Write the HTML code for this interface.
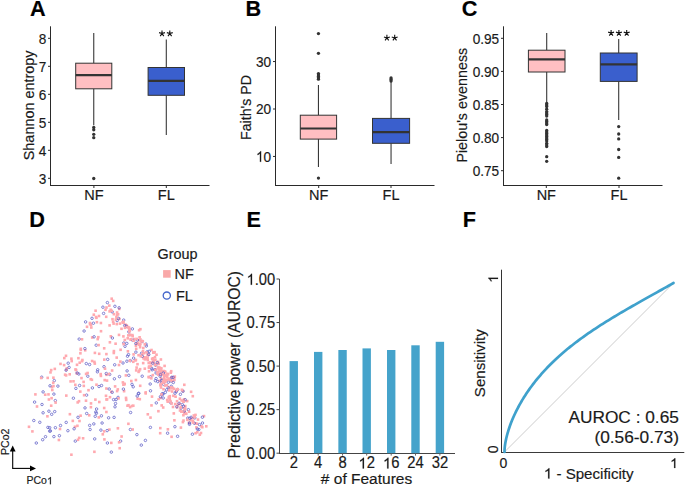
<!DOCTYPE html>
<html><head><meta charset="utf-8"><style>
html,body{margin:0;padding:0;background:#fff;}
svg{display:block;font-family:"Liberation Sans", sans-serif;}
text{stroke:#1a1a1a;stroke-width:0.18px;font-kerning:none;}
</style></head><body>
<svg width="685" height="486" viewBox="0 0 685 486">
<rect width="685" height="486" fill="#fff"/>
<g transform="translate(29.90 15.70)"><text x="0.00" y="0" font-size="21.7" font-weight="bold" fill="#000">A</text></g>
<line x1="50.50" y1="26.30" x2="50.50" y2="186.00" stroke="#2a2a2a" stroke-width="1"/>
<line x1="50.00" y1="185.50" x2="209.50" y2="185.50" stroke="#2a2a2a" stroke-width="1"/>
<line x1="48.00" y1="38.30" x2="50.50" y2="38.30" stroke="#2a2a2a" stroke-width="1"/>
<g transform="translate(46.20 43.70) scale(0.885 1)"><text x="-8.56" y="0" font-size="15.4" font-weight="normal" fill="#1a1a1a">8</text></g>
<line x1="48.00" y1="66.30" x2="50.50" y2="66.30" stroke="#2a2a2a" stroke-width="1"/>
<g transform="translate(46.20 71.70) scale(0.885 1)"><text x="-8.56" y="0" font-size="15.4" font-weight="normal" fill="#1a1a1a">7</text></g>
<line x1="48.00" y1="94.30" x2="50.50" y2="94.30" stroke="#2a2a2a" stroke-width="1"/>
<g transform="translate(46.20 99.70) scale(0.885 1)"><text x="-8.56" y="0" font-size="15.4" font-weight="normal" fill="#1a1a1a">6</text></g>
<line x1="48.00" y1="122.30" x2="50.50" y2="122.30" stroke="#2a2a2a" stroke-width="1"/>
<g transform="translate(46.20 127.70) scale(0.885 1)"><text x="-8.56" y="0" font-size="15.4" font-weight="normal" fill="#1a1a1a">5</text></g>
<line x1="48.00" y1="150.30" x2="50.50" y2="150.30" stroke="#2a2a2a" stroke-width="1"/>
<g transform="translate(46.20 155.70) scale(0.885 1)"><text x="-8.56" y="0" font-size="15.4" font-weight="normal" fill="#1a1a1a">4</text></g>
<line x1="48.00" y1="178.30" x2="50.50" y2="178.30" stroke="#2a2a2a" stroke-width="1"/>
<g transform="translate(46.20 183.70) scale(0.885 1)"><text x="-8.56" y="0" font-size="15.4" font-weight="normal" fill="#1a1a1a">3</text></g>
<line x1="93.90" y1="185.50" x2="93.90" y2="188.00" stroke="#2a2a2a" stroke-width="1"/>
<g transform="translate(93.90 199.80)"><text x="-9.66" y="0" font-size="14.5" font-weight="normal" fill="#1a1a1a">NF</text></g>
<line x1="166.30" y1="185.50" x2="166.30" y2="188.00" stroke="#2a2a2a" stroke-width="1"/>
<g transform="translate(166.30 199.80)"><text x="-8.46" y="0" font-size="14.5" font-weight="normal" fill="#1a1a1a">FL</text></g>
<g transform="translate(33.50 105.40) rotate(-90)"><text x="-54.84" y="0" font-size="14.4" font-weight="normal" fill="#1a1a1a">Shannon entropy</text></g>
<line x1="93.75" y1="32.90" x2="93.75" y2="63.20" stroke="#383838" stroke-width="1.1"/>
<line x1="93.75" y1="88.80" x2="93.75" y2="125.30" stroke="#383838" stroke-width="1.1"/>
<rect x="75.70" y="63.20" width="36.10" height="25.60" fill="#FFBFC2" stroke="#333333" stroke-width="1.0"/>
<line x1="75.70" y1="75.20" x2="111.80" y2="75.20" stroke="#333" stroke-width="2.2"/>
<circle cx="93.75" cy="127.50" r="1.65" fill="#333"/>
<circle cx="93.75" cy="129.80" r="1.65" fill="#333"/>
<circle cx="93.75" cy="134.30" r="1.65" fill="#333"/>
<circle cx="93.75" cy="137.70" r="1.65" fill="#333"/>
<circle cx="93.75" cy="178.50" r="1.65" fill="#333"/>
<line x1="166.30" y1="39.50" x2="166.30" y2="67.50" stroke="#383838" stroke-width="1.1"/>
<line x1="166.30" y1="95.30" x2="166.30" y2="134.90" stroke="#383838" stroke-width="1.1"/>
<rect x="148.10" y="67.50" width="36.40" height="27.80" fill="#3A5FCD" stroke="#333333" stroke-width="1.0"/>
<line x1="148.10" y1="80.90" x2="184.50" y2="80.90" stroke="#333" stroke-width="2.2"/>
<path d="M162.00,33.60L162.00,30.50M162.00,33.60L164.95,32.64M162.00,33.60L163.82,36.11M162.00,33.60L160.18,36.11M162.00,33.60L159.05,32.64M169.80,33.60L169.80,30.50M169.80,33.60L172.75,32.64M169.80,33.60L171.62,36.11M169.80,33.60L167.98,36.11M169.80,33.60L166.85,32.64" stroke="#111" stroke-width="1.1" stroke-linecap="butt" fill="none"/>
<g transform="translate(245.40 15.70)"><text x="0.00" y="0" font-size="21.7" font-weight="bold" fill="#000">B</text></g>
<line x1="275.50" y1="26.30" x2="275.50" y2="186.00" stroke="#2a2a2a" stroke-width="1"/>
<line x1="275.00" y1="185.50" x2="434.50" y2="185.50" stroke="#2a2a2a" stroke-width="1"/>
<line x1="273.00" y1="61.55" x2="275.50" y2="61.55" stroke="#2a2a2a" stroke-width="1"/>
<g transform="translate(271.20 66.95) scale(0.885 1)"><text x="-17.13" y="0" font-size="15.4" font-weight="normal" fill="#1a1a1a">30</text></g>
<line x1="273.00" y1="109.00" x2="275.50" y2="109.00" stroke="#2a2a2a" stroke-width="1"/>
<g transform="translate(271.20 114.40) scale(0.885 1)"><text x="-17.13" y="0" font-size="15.4" font-weight="normal" fill="#1a1a1a">20</text></g>
<line x1="273.00" y1="156.45" x2="275.50" y2="156.45" stroke="#2a2a2a" stroke-width="1"/>
<g transform="translate(271.20 161.85) scale(0.885 1)"><text x="-17.13" y="0" font-size="15.4" font-weight="normal" fill="#1a1a1a"> 0</text><path d="M583,0L583,1102C540,1063 483,1023 413,984C343,945 280,915 225,895L225,1063C325,1108 412,1163 487,1227C562,1292 615,1353 646,1409L763,1409L763,0Z" fill="#1a1a1a" stroke="#1a1a1a" stroke-width="23.9" transform="translate(-17.13 0) scale(0.00752 -0.00752)"/></g>
<line x1="318.70" y1="185.50" x2="318.70" y2="188.00" stroke="#2a2a2a" stroke-width="1"/>
<g transform="translate(318.70 199.80)"><text x="-9.66" y="0" font-size="14.5" font-weight="normal" fill="#1a1a1a">NF</text></g>
<line x1="391.00" y1="185.50" x2="391.00" y2="188.00" stroke="#2a2a2a" stroke-width="1"/>
<g transform="translate(391.00 199.80)"><text x="-8.46" y="0" font-size="14.5" font-weight="normal" fill="#1a1a1a">FL</text></g>
<g transform="translate(251.00 107.50) rotate(-90)"><text x="-32.53" y="0" font-size="14.2" font-weight="normal" fill="#1a1a1a">Faith's PD</text></g>
<line x1="318.45" y1="85.00" x2="318.45" y2="115.20" stroke="#383838" stroke-width="1.1"/>
<line x1="318.45" y1="139.10" x2="318.45" y2="167.00" stroke="#383838" stroke-width="1.1"/>
<rect x="300.30" y="115.20" width="36.30" height="23.90" fill="#FFBFC2" stroke="#333333" stroke-width="1.0"/>
<line x1="300.30" y1="128.50" x2="336.60" y2="128.50" stroke="#333" stroke-width="2.2"/>
<circle cx="318.45" cy="178.10" r="1.65" fill="#333"/>
<circle cx="318.45" cy="79.20" r="1.65" fill="#333"/>
<circle cx="318.45" cy="77.80" r="1.65" fill="#333"/>
<circle cx="318.45" cy="76.40" r="1.65" fill="#333"/>
<circle cx="318.45" cy="75.00" r="1.65" fill="#333"/>
<circle cx="318.45" cy="73.60" r="1.65" fill="#333"/>
<circle cx="318.45" cy="53.30" r="1.65" fill="#333"/>
<circle cx="318.45" cy="33.60" r="1.65" fill="#333"/>
<line x1="391.05" y1="81.30" x2="391.05" y2="118.40" stroke="#383838" stroke-width="1.1"/>
<line x1="391.05" y1="143.30" x2="391.05" y2="164.00" stroke="#383838" stroke-width="1.1"/>
<rect x="372.50" y="118.40" width="37.10" height="24.90" fill="#3A5FCD" stroke="#333333" stroke-width="1.0"/>
<line x1="372.50" y1="132.20" x2="409.60" y2="132.20" stroke="#333" stroke-width="2.2"/>
<circle cx="391.05" cy="81.00" r="1.65" fill="#333"/>
<circle cx="391.05" cy="79.50" r="1.65" fill="#333"/>
<circle cx="391.05" cy="78.00" r="1.65" fill="#333"/>
<path d="M386.90,37.90L386.90,34.80M386.90,37.90L389.85,36.94M386.90,37.90L388.72,40.41M386.90,37.90L385.08,40.41M386.90,37.90L383.95,36.94M394.70,37.90L394.70,34.80M394.70,37.90L397.65,36.94M394.70,37.90L396.52,40.41M394.70,37.90L392.88,40.41M394.70,37.90L391.75,36.94" stroke="#111" stroke-width="1.1" stroke-linecap="butt" fill="none"/>
<g transform="translate(461.80 15.70)"><text x="0.00" y="0" font-size="21.7" font-weight="bold" fill="#000">C</text></g>
<line x1="503.50" y1="26.30" x2="503.50" y2="186.00" stroke="#2a2a2a" stroke-width="1"/>
<line x1="503.00" y1="185.50" x2="662.50" y2="185.50" stroke="#2a2a2a" stroke-width="1"/>
<line x1="501.00" y1="38.30" x2="503.50" y2="38.30" stroke="#2a2a2a" stroke-width="1"/>
<g transform="translate(499.20 43.70) scale(0.885 1)"><text x="-29.97" y="0" font-size="15.4" font-weight="normal" fill="#1a1a1a">0.95</text></g>
<line x1="501.00" y1="71.40" x2="503.50" y2="71.40" stroke="#2a2a2a" stroke-width="1"/>
<g transform="translate(499.20 76.80) scale(0.885 1)"><text x="-29.97" y="0" font-size="15.4" font-weight="normal" fill="#1a1a1a">0.90</text></g>
<line x1="501.00" y1="104.50" x2="503.50" y2="104.50" stroke="#2a2a2a" stroke-width="1"/>
<g transform="translate(499.20 109.90) scale(0.885 1)"><text x="-29.97" y="0" font-size="15.4" font-weight="normal" fill="#1a1a1a">0.85</text></g>
<line x1="501.00" y1="137.60" x2="503.50" y2="137.60" stroke="#2a2a2a" stroke-width="1"/>
<g transform="translate(499.20 143.00) scale(0.885 1)"><text x="-29.97" y="0" font-size="15.4" font-weight="normal" fill="#1a1a1a">0.80</text></g>
<line x1="501.00" y1="170.70" x2="503.50" y2="170.70" stroke="#2a2a2a" stroke-width="1"/>
<g transform="translate(499.20 176.10) scale(0.885 1)"><text x="-29.97" y="0" font-size="15.4" font-weight="normal" fill="#1a1a1a">0.75</text></g>
<line x1="546.30" y1="185.50" x2="546.30" y2="188.00" stroke="#2a2a2a" stroke-width="1"/>
<g transform="translate(546.30 199.80)"><text x="-9.66" y="0" font-size="14.5" font-weight="normal" fill="#1a1a1a">NF</text></g>
<line x1="619.00" y1="185.50" x2="619.00" y2="188.00" stroke="#2a2a2a" stroke-width="1"/>
<g transform="translate(619.00 199.80)"><text x="-8.46" y="0" font-size="14.5" font-weight="normal" fill="#1a1a1a">FL</text></g>
<g transform="translate(466.60 105.20) rotate(-90)"><text x="-57.41" y="0" font-size="14.3" font-weight="normal" fill="#1a1a1a">Pielou's evenness</text></g>
<line x1="546.70" y1="32.90" x2="546.70" y2="50.20" stroke="#383838" stroke-width="1.1"/>
<line x1="546.70" y1="72.00" x2="546.70" y2="103.00" stroke="#383838" stroke-width="1.1"/>
<rect x="528.40" y="50.20" width="36.60" height="21.80" fill="#FFBFC2" stroke="#333333" stroke-width="1.0"/>
<line x1="528.40" y1="59.30" x2="565.00" y2="59.30" stroke="#333" stroke-width="2.2"/>
<circle cx="546.70" cy="103.50" r="1.65" fill="#333"/>
<circle cx="546.70" cy="105.00" r="1.65" fill="#333"/>
<circle cx="546.70" cy="106.50" r="1.65" fill="#333"/>
<circle cx="546.70" cy="109.20" r="1.65" fill="#333"/>
<circle cx="546.70" cy="111.60" r="1.65" fill="#333"/>
<circle cx="546.70" cy="113.00" r="1.65" fill="#333"/>
<circle cx="546.70" cy="114.50" r="1.65" fill="#333"/>
<circle cx="546.70" cy="116.00" r="1.65" fill="#333"/>
<circle cx="546.70" cy="120.00" r="1.65" fill="#333"/>
<circle cx="546.70" cy="121.50" r="1.65" fill="#333"/>
<circle cx="546.70" cy="123.00" r="1.65" fill="#333"/>
<circle cx="546.70" cy="124.50" r="1.65" fill="#333"/>
<circle cx="546.70" cy="130.50" r="1.65" fill="#333"/>
<circle cx="546.70" cy="132.00" r="1.65" fill="#333"/>
<circle cx="546.70" cy="133.50" r="1.65" fill="#333"/>
<circle cx="546.70" cy="135.00" r="1.65" fill="#333"/>
<circle cx="546.70" cy="136.50" r="1.65" fill="#333"/>
<circle cx="546.70" cy="138.00" r="1.65" fill="#333"/>
<circle cx="546.70" cy="139.50" r="1.65" fill="#333"/>
<circle cx="546.70" cy="141.00" r="1.65" fill="#333"/>
<circle cx="546.70" cy="143.30" r="1.65" fill="#333"/>
<circle cx="546.70" cy="145.00" r="1.65" fill="#333"/>
<circle cx="546.70" cy="146.60" r="1.65" fill="#333"/>
<circle cx="546.70" cy="156.70" r="1.65" fill="#333"/>
<circle cx="546.70" cy="161.30" r="1.65" fill="#333"/>
<line x1="618.70" y1="39.00" x2="618.70" y2="53.00" stroke="#383838" stroke-width="1.1"/>
<line x1="618.70" y1="81.40" x2="618.70" y2="120.10" stroke="#383838" stroke-width="1.1"/>
<rect x="600.30" y="53.00" width="36.80" height="28.40" fill="#3A5FCD" stroke="#333333" stroke-width="1.0"/>
<line x1="600.30" y1="64.30" x2="637.10" y2="64.30" stroke="#333" stroke-width="2.2"/>
<circle cx="618.70" cy="126.60" r="1.65" fill="#333"/>
<circle cx="618.70" cy="134.00" r="1.65" fill="#333"/>
<circle cx="618.70" cy="138.90" r="1.65" fill="#333"/>
<circle cx="618.70" cy="149.50" r="1.65" fill="#333"/>
<circle cx="618.70" cy="157.40" r="1.65" fill="#333"/>
<circle cx="618.70" cy="178.20" r="1.65" fill="#333"/>
<path d="M611.10,33.10L611.10,30.00M611.10,33.10L614.05,32.14M611.10,33.10L612.92,35.61M611.10,33.10L609.28,35.61M611.10,33.10L608.15,32.14M618.90,33.10L618.90,30.00M618.90,33.10L621.85,32.14M618.90,33.10L620.72,35.61M618.90,33.10L617.08,35.61M618.90,33.10L615.95,32.14M626.70,33.10L626.70,30.00M626.70,33.10L629.65,32.14M626.70,33.10L628.52,35.61M626.70,33.10L624.88,35.61M626.70,33.10L623.75,32.14" stroke="#111" stroke-width="1.1" stroke-linecap="butt" fill="none"/>
<g transform="translate(29.20 227.10)"><text x="0.00" y="0" font-size="21.7" font-weight="bold" fill="#000">D</text></g>
<g transform="translate(157.50 258.80)"><text x="0.00" y="0" font-size="14.4" font-weight="normal" fill="#1a1a1a">Group</text></g>
<rect x="163.10" y="270.10" width="7.60" height="7.60" fill="#F9A8A8"/>
<g transform="translate(174.50 278.80)"><text x="0.00" y="0" font-size="14.4" font-weight="normal" fill="#1a1a1a">NF</text></g>
<circle cx="166.80" cy="295.60" r="3.6" fill="none" stroke="#4466CC" stroke-width="1.3"/>
<g transform="translate(176.00 300.60)"><text x="0.00" y="0" font-size="14.4" font-weight="normal" fill="#1a1a1a">FL</text></g>
<g><rect x="200.1" y="425.0" width="2.6" height="2.6" fill="#FFA9AF"/><rect x="181.7" y="389.8" width="2.6" height="2.6" fill="#FFA9AF"/><rect x="128.8" y="405.8" width="2.6" height="2.6" fill="#FFA9AF"/><circle cx="101.5" cy="385.5" r="1.25" fill="none" stroke="#5C5CC6" stroke-width="0.75"/><circle cx="79.6" cy="385.5" r="1.25" fill="none" stroke="#5C5CC6" stroke-width="0.75"/><circle cx="94.7" cy="438.9" r="1.25" fill="none" stroke="#5C5CC6" stroke-width="0.75"/><circle cx="171.3" cy="386.3" r="1.25" fill="none" stroke="#5C5CC6" stroke-width="0.75"/><rect x="183.1" y="411.9" width="2.6" height="2.6" fill="#FFA9AF"/><rect x="105.1" y="410.7" width="2.6" height="2.6" fill="#FFA9AF"/><rect x="163.3" y="364.6" width="2.6" height="2.6" fill="#FFA9AF"/><circle cx="89.6" cy="364.5" r="1.25" fill="none" stroke="#5C5CC6" stroke-width="0.75"/><rect x="134.1" y="359.1" width="2.6" height="2.6" fill="#FFA9AF"/><rect x="147.2" y="353.6" width="2.6" height="2.6" fill="#FFA9AF"/><rect x="68.4" y="373.0" width="2.6" height="2.6" fill="#FFA9AF"/><rect x="139.2" y="338.2" width="2.6" height="2.6" fill="#FFA9AF"/><circle cx="101.4" cy="415.8" r="1.25" fill="none" stroke="#5C5CC6" stroke-width="0.75"/><circle cx="177.6" cy="389.5" r="1.25" fill="none" stroke="#5C5CC6" stroke-width="0.75"/><rect x="49.9" y="368.8" width="2.6" height="2.6" fill="#FFA9AF"/><rect x="132.3" y="353.1" width="2.6" height="2.6" fill="#FFA9AF"/><rect x="63.0" y="356.8" width="2.6" height="2.6" fill="#FFA9AF"/><circle cx="55.3" cy="400.6" r="1.25" fill="none" stroke="#5C5CC6" stroke-width="0.75"/><rect x="118.0" y="307.6" width="2.6" height="2.6" fill="#FFA9AF"/><rect x="182.2" y="419.3" width="2.6" height="2.6" fill="#FFA9AF"/><rect x="147.7" y="370.0" width="2.6" height="2.6" fill="#FFA9AF"/><circle cx="170.9" cy="402.9" r="1.25" fill="none" stroke="#5C5CC6" stroke-width="0.75"/><rect x="125.5" y="324.3" width="2.6" height="2.6" fill="#FFA9AF"/><rect x="119.3" y="348.5" width="2.6" height="2.6" fill="#FFA9AF"/><circle cx="59.4" cy="435.7" r="1.25" fill="none" stroke="#5C5CC6" stroke-width="0.75"/><circle cx="104.0" cy="366.7" r="1.25" fill="none" stroke="#5C5CC6" stroke-width="0.75"/><circle cx="96.2" cy="345.2" r="1.25" fill="none" stroke="#5C5CC6" stroke-width="0.75"/><rect x="153.7" y="355.8" width="2.6" height="2.6" fill="#FFA9AF"/><circle cx="68.2" cy="363.2" r="1.25" fill="none" stroke="#5C5CC6" stroke-width="0.75"/><circle cx="75.3" cy="441.1" r="1.25" fill="none" stroke="#5C5CC6" stroke-width="0.75"/><rect x="134.6" y="378.7" width="2.6" height="2.6" fill="#FFA9AF"/><circle cx="54.3" cy="380.6" r="1.25" fill="none" stroke="#5C5CC6" stroke-width="0.75"/><circle cx="115.0" cy="406.8" r="1.25" fill="none" stroke="#5C5CC6" stroke-width="0.75"/><rect x="115.8" y="313.7" width="2.6" height="2.6" fill="#FFA9AF"/><circle cx="89.7" cy="425.4" r="1.25" fill="none" stroke="#5C5CC6" stroke-width="0.75"/><rect x="158.2" y="379.5" width="2.6" height="2.6" fill="#FFA9AF"/><rect x="191.1" y="416.8" width="2.6" height="2.6" fill="#FFA9AF"/><circle cx="182.3" cy="404.6" r="1.25" fill="none" stroke="#5C5CC6" stroke-width="0.75"/><rect x="180.3" y="399.2" width="2.6" height="2.6" fill="#FFA9AF"/><rect x="124.2" y="323.4" width="2.6" height="2.6" fill="#FFA9AF"/><rect x="148.9" y="361.2" width="2.6" height="2.6" fill="#FFA9AF"/><rect x="109.5" y="335.0" width="2.6" height="2.6" fill="#FFA9AF"/><circle cx="43.1" cy="391.9" r="1.25" fill="none" stroke="#5C5CC6" stroke-width="0.75"/><rect x="172.5" y="412.1" width="2.6" height="2.6" fill="#FFA9AF"/><circle cx="86.6" cy="395.1" r="1.25" fill="none" stroke="#5C5CC6" stroke-width="0.75"/><rect x="73.7" y="425.5" width="2.6" height="2.6" fill="#FFA9AF"/><circle cx="124.7" cy="325.5" r="1.25" fill="none" stroke="#5C5CC6" stroke-width="0.75"/><rect x="162.4" y="373.8" width="2.6" height="2.6" fill="#FFA9AF"/><rect x="112.6" y="349.8" width="2.6" height="2.6" fill="#FFA9AF"/><circle cx="161.3" cy="372.3" r="1.25" fill="none" stroke="#5C5CC6" stroke-width="0.75"/><circle cx="117.1" cy="320.6" r="1.25" fill="none" stroke="#5C5CC6" stroke-width="0.75"/><rect x="168.1" y="377.3" width="2.6" height="2.6" fill="#FFA9AF"/><rect x="150.8" y="357.6" width="2.6" height="2.6" fill="#FFA9AF"/><rect x="89.4" y="377.9" width="2.6" height="2.6" fill="#FFA9AF"/><rect x="147.4" y="375.7" width="2.6" height="2.6" fill="#FFA9AF"/><rect x="105.1" y="387.2" width="2.6" height="2.6" fill="#FFA9AF"/><rect x="163.0" y="376.4" width="2.6" height="2.6" fill="#FFA9AF"/><rect x="195.1" y="426.1" width="2.6" height="2.6" fill="#FFA9AF"/><circle cx="126.9" cy="361.2" r="1.25" fill="none" stroke="#5C5CC6" stroke-width="0.75"/><circle cx="142.2" cy="341.5" r="1.25" fill="none" stroke="#5C5CC6" stroke-width="0.75"/><rect x="97.3" y="343.8" width="2.6" height="2.6" fill="#FFA9AF"/><rect x="159.8" y="377.1" width="2.6" height="2.6" fill="#FFA9AF"/><rect x="134.6" y="344.4" width="2.6" height="2.6" fill="#FFA9AF"/><rect x="199.7" y="431.7" width="2.6" height="2.6" fill="#FFA9AF"/><rect x="122.8" y="389.9" width="2.6" height="2.6" fill="#FFA9AF"/><rect x="155.2" y="353.4" width="2.6" height="2.6" fill="#FFA9AF"/><rect x="185.0" y="412.5" width="2.6" height="2.6" fill="#FFA9AF"/><rect x="184.0" y="404.8" width="2.6" height="2.6" fill="#FFA9AF"/><rect x="130.0" y="379.7" width="2.6" height="2.6" fill="#FFA9AF"/><rect x="157.4" y="367.5" width="2.6" height="2.6" fill="#FFA9AF"/><circle cx="49.7" cy="427.7" r="1.25" fill="none" stroke="#5C5CC6" stroke-width="0.75"/><rect x="94.1" y="398.3" width="2.6" height="2.6" fill="#FFA9AF"/><rect x="77.9" y="436.6" width="2.6" height="2.6" fill="#FFA9AF"/><circle cx="57.9" cy="386.1" r="1.25" fill="none" stroke="#5C5CC6" stroke-width="0.75"/><rect x="84.7" y="399.4" width="2.6" height="2.6" fill="#FFA9AF"/><circle cx="41.7" cy="377.2" r="1.25" fill="none" stroke="#5C5CC6" stroke-width="0.75"/><rect x="165.5" y="373.6" width="2.6" height="2.6" fill="#FFA9AF"/><rect x="104.2" y="308.5" width="2.6" height="2.6" fill="#FFA9AF"/><rect x="115.8" y="389.8" width="2.6" height="2.6" fill="#FFA9AF"/><rect x="166.8" y="373.0" width="2.6" height="2.6" fill="#FFA9AF"/><rect x="169.9" y="386.1" width="2.6" height="2.6" fill="#FFA9AF"/><rect x="113.8" y="385.1" width="2.6" height="2.6" fill="#FFA9AF"/><rect x="157.3" y="362.7" width="2.6" height="2.6" fill="#FFA9AF"/><rect x="159.3" y="396.7" width="2.6" height="2.6" fill="#FFA9AF"/><circle cx="168.3" cy="382.2" r="1.25" fill="none" stroke="#5C5CC6" stroke-width="0.75"/><rect x="166.4" y="400.4" width="2.6" height="2.6" fill="#FFA9AF"/><rect x="184.4" y="412.4" width="2.6" height="2.6" fill="#FFA9AF"/><rect x="182.9" y="406.6" width="2.6" height="2.6" fill="#FFA9AF"/><rect x="164.2" y="378.8" width="2.6" height="2.6" fill="#FFA9AF"/><rect x="157.7" y="368.2" width="2.6" height="2.6" fill="#FFA9AF"/><rect x="157.1" y="409.9" width="2.6" height="2.6" fill="#FFA9AF"/><rect x="46.4" y="376.6" width="2.6" height="2.6" fill="#FFA9AF"/><circle cx="150.4" cy="427.4" r="1.25" fill="none" stroke="#5C5CC6" stroke-width="0.75"/><rect x="183.4" y="410.5" width="2.6" height="2.6" fill="#FFA9AF"/><rect x="167.8" y="386.1" width="2.6" height="2.6" fill="#FFA9AF"/><circle cx="183.0" cy="391.2" r="1.25" fill="none" stroke="#5C5CC6" stroke-width="0.75"/><rect x="118.7" y="322.3" width="2.6" height="2.6" fill="#FFA9AF"/><rect x="136.2" y="342.5" width="2.6" height="2.6" fill="#FFA9AF"/><circle cx="141.5" cy="353.3" r="1.25" fill="none" stroke="#5C5CC6" stroke-width="0.75"/><rect x="165.9" y="398.7" width="2.6" height="2.6" fill="#FFA9AF"/><rect x="78.4" y="361.4" width="2.6" height="2.6" fill="#FFA9AF"/><rect x="129.4" y="338.4" width="2.6" height="2.6" fill="#FFA9AF"/><rect x="179.6" y="426.3" width="2.6" height="2.6" fill="#FFA9AF"/><rect x="77.1" y="356.9" width="2.6" height="2.6" fill="#FFA9AF"/><rect x="124.7" y="396.6" width="2.6" height="2.6" fill="#FFA9AF"/><circle cx="155.6" cy="365.2" r="1.25" fill="none" stroke="#5C5CC6" stroke-width="0.75"/><rect x="187.6" y="421.5" width="2.6" height="2.6" fill="#FFA9AF"/><rect x="74.8" y="368.8" width="2.6" height="2.6" fill="#FFA9AF"/><circle cx="36.3" cy="443.0" r="1.25" fill="none" stroke="#5C5CC6" stroke-width="0.75"/><rect x="189.3" y="418.8" width="2.6" height="2.6" fill="#FFA9AF"/><rect x="147.4" y="361.7" width="2.6" height="2.6" fill="#FFA9AF"/><circle cx="126.5" cy="326.4" r="1.25" fill="none" stroke="#5C5CC6" stroke-width="0.75"/><rect x="141.1" y="353.0" width="2.6" height="2.6" fill="#FFA9AF"/><rect x="168.3" y="396.3" width="2.6" height="2.6" fill="#FFA9AF"/><rect x="105.2" y="373.5" width="2.6" height="2.6" fill="#FFA9AF"/><rect x="76.7" y="438.5" width="2.6" height="2.6" fill="#FFA9AF"/><rect x="35.7" y="405.2" width="2.6" height="2.6" fill="#FFA9AF"/><rect x="112.6" y="312.9" width="2.6" height="2.6" fill="#FFA9AF"/><rect x="168.5" y="394.9" width="2.6" height="2.6" fill="#FFA9AF"/><rect x="160.4" y="404.1" width="2.6" height="2.6" fill="#FFA9AF"/><circle cx="189.5" cy="423.0" r="1.25" fill="none" stroke="#5C5CC6" stroke-width="0.75"/><rect x="163.7" y="380.7" width="2.6" height="2.6" fill="#FFA9AF"/><circle cx="162.3" cy="393.7" r="1.25" fill="none" stroke="#5C5CC6" stroke-width="0.75"/><rect x="161.9" y="406.2" width="2.6" height="2.6" fill="#FFA9AF"/><rect x="68.6" y="412.9" width="2.6" height="2.6" fill="#FFA9AF"/><rect x="170.9" y="379.6" width="2.6" height="2.6" fill="#FFA9AF"/><rect x="82.8" y="393.9" width="2.6" height="2.6" fill="#FFA9AF"/><circle cx="174.9" cy="426.7" r="1.25" fill="none" stroke="#5C5CC6" stroke-width="0.75"/><circle cx="187.8" cy="418.1" r="1.25" fill="none" stroke="#5C5CC6" stroke-width="0.75"/><circle cx="111.3" cy="452.1" r="1.25" fill="none" stroke="#5C5CC6" stroke-width="0.75"/><rect x="194.2" y="422.0" width="2.6" height="2.6" fill="#FFA9AF"/><rect x="130.6" y="404.7" width="2.6" height="2.6" fill="#FFA9AF"/><circle cx="177.6" cy="436.3" r="1.25" fill="none" stroke="#5C5CC6" stroke-width="0.75"/><rect x="159.7" y="386.2" width="2.6" height="2.6" fill="#FFA9AF"/><rect x="154.1" y="358.5" width="2.6" height="2.6" fill="#FFA9AF"/><circle cx="133.2" cy="386.8" r="1.25" fill="none" stroke="#5C5CC6" stroke-width="0.75"/><rect x="175.8" y="406.2" width="2.6" height="2.6" fill="#FFA9AF"/><rect x="124.6" y="374.1" width="2.6" height="2.6" fill="#FFA9AF"/><rect x="103.4" y="378.8" width="2.6" height="2.6" fill="#FFA9AF"/><rect x="127.1" y="422.5" width="2.6" height="2.6" fill="#FFA9AF"/><rect x="64.9" y="368.4" width="2.6" height="2.6" fill="#FFA9AF"/><rect x="142.8" y="356.0" width="2.6" height="2.6" fill="#FFA9AF"/><rect x="153.7" y="363.6" width="2.6" height="2.6" fill="#FFA9AF"/><rect x="169.9" y="369.9" width="2.6" height="2.6" fill="#FFA9AF"/><rect x="159.2" y="384.0" width="2.6" height="2.6" fill="#FFA9AF"/><circle cx="127.5" cy="356.2" r="1.25" fill="none" stroke="#5C5CC6" stroke-width="0.75"/><rect x="198.5" y="433.4" width="2.6" height="2.6" fill="#FFA9AF"/><rect x="156.5" y="361.3" width="2.6" height="2.6" fill="#FFA9AF"/><rect x="126.4" y="337.0" width="2.6" height="2.6" fill="#FFA9AF"/><circle cx="118.1" cy="397.4" r="1.25" fill="none" stroke="#5C5CC6" stroke-width="0.75"/><rect x="169.2" y="400.1" width="2.6" height="2.6" fill="#FFA9AF"/><rect x="141.7" y="349.9" width="2.6" height="2.6" fill="#FFA9AF"/><rect x="134.6" y="358.7" width="2.6" height="2.6" fill="#FFA9AF"/><circle cx="156.1" cy="373.0" r="1.25" fill="none" stroke="#5C5CC6" stroke-width="0.75"/><rect x="105.2" y="398.2" width="2.6" height="2.6" fill="#FFA9AF"/><rect x="140.1" y="340.1" width="2.6" height="2.6" fill="#FFA9AF"/><rect x="111.9" y="299.6" width="2.6" height="2.6" fill="#FFA9AF"/><rect x="97.5" y="416.1" width="2.6" height="2.6" fill="#FFA9AF"/><circle cx="119.1" cy="307.8" r="1.25" fill="none" stroke="#5C5CC6" stroke-width="0.75"/><circle cx="114.9" cy="306.3" r="1.25" fill="none" stroke="#5C5CC6" stroke-width="0.75"/><circle cx="96.6" cy="409.0" r="1.25" fill="none" stroke="#5C5CC6" stroke-width="0.75"/><rect x="135.1" y="342.1" width="2.6" height="2.6" fill="#FFA9AF"/><rect x="79.3" y="414.4" width="2.6" height="2.6" fill="#FFA9AF"/><rect x="168.6" y="398.5" width="2.6" height="2.6" fill="#FFA9AF"/><circle cx="86.7" cy="413.5" r="1.25" fill="none" stroke="#5C5CC6" stroke-width="0.75"/><rect x="90.9" y="336.2" width="2.6" height="2.6" fill="#FFA9AF"/><rect x="93.1" y="360.6" width="2.6" height="2.6" fill="#FFA9AF"/><circle cx="39.8" cy="422.3" r="1.25" fill="none" stroke="#5C5CC6" stroke-width="0.75"/><rect x="174.9" y="389.6" width="2.6" height="2.6" fill="#FFA9AF"/><circle cx="166.7" cy="389.8" r="1.25" fill="none" stroke="#5C5CC6" stroke-width="0.75"/><circle cx="120.6" cy="441.1" r="1.25" fill="none" stroke="#5C5CC6" stroke-width="0.75"/><rect x="132.9" y="337.8" width="2.6" height="2.6" fill="#FFA9AF"/><rect x="146.5" y="413.0" width="2.6" height="2.6" fill="#FFA9AF"/><rect x="178.5" y="402.7" width="2.6" height="2.6" fill="#FFA9AF"/><rect x="151.6" y="360.3" width="2.6" height="2.6" fill="#FFA9AF"/><rect x="137.6" y="339.0" width="2.6" height="2.6" fill="#FFA9AF"/><rect x="156.7" y="370.7" width="2.6" height="2.6" fill="#FFA9AF"/><rect x="116.6" y="427.0" width="2.6" height="2.6" fill="#FFA9AF"/><rect x="147.6" y="366.5" width="2.6" height="2.6" fill="#FFA9AF"/><circle cx="128.5" cy="354.6" r="1.25" fill="none" stroke="#5C5CC6" stroke-width="0.75"/><rect x="123.7" y="326.5" width="2.6" height="2.6" fill="#FFA9AF"/><circle cx="78.8" cy="374.0" r="1.25" fill="none" stroke="#5C5CC6" stroke-width="0.75"/><circle cx="168.2" cy="387.8" r="1.25" fill="none" stroke="#5C5CC6" stroke-width="0.75"/><rect x="143.6" y="358.0" width="2.6" height="2.6" fill="#FFA9AF"/><circle cx="132.7" cy="340.3" r="1.25" fill="none" stroke="#5C5CC6" stroke-width="0.75"/><circle cx="126.8" cy="343.4" r="1.25" fill="none" stroke="#5C5CC6" stroke-width="0.75"/><rect x="202.7" y="414.8" width="2.6" height="2.6" fill="#FFA9AF"/><rect x="180.1" y="410.4" width="2.6" height="2.6" fill="#FFA9AF"/><rect x="94.3" y="309.4" width="2.6" height="2.6" fill="#FFA9AF"/><circle cx="107.7" cy="359.4" r="1.25" fill="none" stroke="#5C5CC6" stroke-width="0.75"/><rect x="87.9" y="414.0" width="2.6" height="2.6" fill="#FFA9AF"/><rect x="108.3" y="324.1" width="2.6" height="2.6" fill="#FFA9AF"/><rect x="137.7" y="343.4" width="2.6" height="2.6" fill="#FFA9AF"/><circle cx="170.9" cy="380.9" r="1.25" fill="none" stroke="#5C5CC6" stroke-width="0.75"/><rect x="110.0" y="441.6" width="2.6" height="2.6" fill="#FFA9AF"/><rect x="136.2" y="362.9" width="2.6" height="2.6" fill="#FFA9AF"/><rect x="152.3" y="351.1" width="2.6" height="2.6" fill="#FFA9AF"/><circle cx="150.2" cy="384.0" r="1.25" fill="none" stroke="#5C5CC6" stroke-width="0.75"/><rect x="153.0" y="358.8" width="2.6" height="2.6" fill="#FFA9AF"/><rect x="158.9" y="431.9" width="2.6" height="2.6" fill="#FFA9AF"/><rect x="116.5" y="388.1" width="2.6" height="2.6" fill="#FFA9AF"/><circle cx="79.2" cy="339.1" r="1.25" fill="none" stroke="#5C5CC6" stroke-width="0.75"/><circle cx="146.0" cy="344.1" r="1.25" fill="none" stroke="#5C5CC6" stroke-width="0.75"/><circle cx="141.3" cy="445.1" r="1.25" fill="none" stroke="#5C5CC6" stroke-width="0.75"/><rect x="154.5" y="363.0" width="2.6" height="2.6" fill="#FFA9AF"/><rect x="162.2" y="387.9" width="2.6" height="2.6" fill="#FFA9AF"/><circle cx="97.4" cy="371.8" r="1.25" fill="none" stroke="#5C5CC6" stroke-width="0.75"/><rect x="157.4" y="398.2" width="2.6" height="2.6" fill="#FFA9AF"/><rect x="52.1" y="376.4" width="2.6" height="2.6" fill="#FFA9AF"/><circle cx="114.1" cy="417.4" r="1.25" fill="none" stroke="#5C5CC6" stroke-width="0.75"/><rect x="136.3" y="342.0" width="2.6" height="2.6" fill="#FFA9AF"/><circle cx="160.1" cy="376.2" r="1.25" fill="none" stroke="#5C5CC6" stroke-width="0.75"/><rect x="92.5" y="313.4" width="2.6" height="2.6" fill="#FFA9AF"/><rect x="163.7" y="370.2" width="2.6" height="2.6" fill="#FFA9AF"/><rect x="182.1" y="400.2" width="2.6" height="2.6" fill="#FFA9AF"/><circle cx="92.0" cy="318.3" r="1.25" fill="none" stroke="#5C5CC6" stroke-width="0.75"/><rect x="167.6" y="396.7" width="2.6" height="2.6" fill="#FFA9AF"/><rect x="43.9" y="393.4" width="2.6" height="2.6" fill="#FFA9AF"/><circle cx="109.7" cy="374.4" r="1.25" fill="none" stroke="#5C5CC6" stroke-width="0.75"/><rect x="93.1" y="450.5" width="2.6" height="2.6" fill="#FFA9AF"/><circle cx="128.8" cy="375.3" r="1.25" fill="none" stroke="#5C5CC6" stroke-width="0.75"/><circle cx="163.7" cy="384.4" r="1.25" fill="none" stroke="#5C5CC6" stroke-width="0.75"/><rect x="52.2" y="384.8" width="2.6" height="2.6" fill="#FFA9AF"/><circle cx="112.2" cy="311.8" r="1.25" fill="none" stroke="#5C5CC6" stroke-width="0.75"/><rect x="170.9" y="379.5" width="2.6" height="2.6" fill="#FFA9AF"/><rect x="110.0" y="390.5" width="2.6" height="2.6" fill="#FFA9AF"/><circle cx="180.4" cy="394.3" r="1.25" fill="none" stroke="#5C5CC6" stroke-width="0.75"/><rect x="103.1" y="438.1" width="2.6" height="2.6" fill="#FFA9AF"/><rect x="118.1" y="317.6" width="2.6" height="2.6" fill="#FFA9AF"/><rect x="156.7" y="366.1" width="2.6" height="2.6" fill="#FFA9AF"/><rect x="160.0" y="366.9" width="2.6" height="2.6" fill="#FFA9AF"/><rect x="82.5" y="384.6" width="2.6" height="2.6" fill="#FFA9AF"/><circle cx="123.7" cy="320.1" r="1.25" fill="none" stroke="#5C5CC6" stroke-width="0.75"/><rect x="110.4" y="297.4" width="2.6" height="2.6" fill="#FFA9AF"/><circle cx="161.7" cy="382.8" r="1.25" fill="none" stroke="#5C5CC6" stroke-width="0.75"/><circle cx="102.1" cy="423.0" r="1.25" fill="none" stroke="#5C5CC6" stroke-width="0.75"/><circle cx="152.2" cy="369.8" r="1.25" fill="none" stroke="#5C5CC6" stroke-width="0.75"/><rect x="173.5" y="375.3" width="2.6" height="2.6" fill="#FFA9AF"/><rect x="89.7" y="323.6" width="2.6" height="2.6" fill="#FFA9AF"/><rect x="151.7" y="357.0" width="2.6" height="2.6" fill="#FFA9AF"/><circle cx="103.6" cy="313.4" r="1.25" fill="none" stroke="#5C5CC6" stroke-width="0.75"/><circle cx="189.7" cy="418.3" r="1.25" fill="none" stroke="#5C5CC6" stroke-width="0.75"/><circle cx="73.4" cy="398.2" r="1.25" fill="none" stroke="#5C5CC6" stroke-width="0.75"/><rect x="121.3" y="321.0" width="2.6" height="2.6" fill="#FFA9AF"/><rect x="136.3" y="397.4" width="2.6" height="2.6" fill="#FFA9AF"/><circle cx="163.2" cy="398.0" r="1.25" fill="none" stroke="#5C5CC6" stroke-width="0.75"/><rect x="174.3" y="395.4" width="2.6" height="2.6" fill="#FFA9AF"/><rect x="195.7" y="422.4" width="2.6" height="2.6" fill="#FFA9AF"/><circle cx="112.2" cy="392.3" r="1.25" fill="none" stroke="#5C5CC6" stroke-width="0.75"/><rect x="95.6" y="320.9" width="2.6" height="2.6" fill="#FFA9AF"/><rect x="176.5" y="403.4" width="2.6" height="2.6" fill="#FFA9AF"/><rect x="99.6" y="374.6" width="2.6" height="2.6" fill="#FFA9AF"/><rect x="121.9" y="321.4" width="2.6" height="2.6" fill="#FFA9AF"/><circle cx="183.5" cy="406.3" r="1.25" fill="none" stroke="#5C5CC6" stroke-width="0.75"/><circle cx="176.3" cy="391.6" r="1.25" fill="none" stroke="#5C5CC6" stroke-width="0.75"/><rect x="171.7" y="405.7" width="2.6" height="2.6" fill="#FFA9AF"/><rect x="83.9" y="349.0" width="2.6" height="2.6" fill="#FFA9AF"/><rect x="126.2" y="404.4" width="2.6" height="2.6" fill="#FFA9AF"/><circle cx="163.1" cy="394.0" r="1.25" fill="none" stroke="#5C5CC6" stroke-width="0.75"/><rect x="81.8" y="437.0" width="2.6" height="2.6" fill="#FFA9AF"/><rect x="163.8" y="370.9" width="2.6" height="2.6" fill="#FFA9AF"/><rect x="47.2" y="393.1" width="2.6" height="2.6" fill="#FFA9AF"/><rect x="165.3" y="378.7" width="2.6" height="2.6" fill="#FFA9AF"/><rect x="59.2" y="362.6" width="2.6" height="2.6" fill="#FFA9AF"/><circle cx="179.0" cy="403.3" r="1.25" fill="none" stroke="#5C5CC6" stroke-width="0.75"/><rect x="186.1" y="418.5" width="2.6" height="2.6" fill="#FFA9AF"/><circle cx="202.4" cy="417.2" r="1.25" fill="none" stroke="#5C5CC6" stroke-width="0.75"/><rect x="175.5" y="388.3" width="2.6" height="2.6" fill="#FFA9AF"/><rect x="99.7" y="329.9" width="2.6" height="2.6" fill="#FFA9AF"/><rect x="117.2" y="397.1" width="2.6" height="2.6" fill="#FFA9AF"/><rect x="82.3" y="380.6" width="2.6" height="2.6" fill="#FFA9AF"/><rect x="154.1" y="368.1" width="2.6" height="2.6" fill="#FFA9AF"/><circle cx="84.9" cy="348.6" r="1.25" fill="none" stroke="#5C5CC6" stroke-width="0.75"/><rect x="31.1" y="430.1" width="2.6" height="2.6" fill="#FFA9AF"/><rect x="117.7" y="363.7" width="2.6" height="2.6" fill="#FFA9AF"/><rect x="201.0" y="425.9" width="2.6" height="2.6" fill="#FFA9AF"/><rect x="123.1" y="382.5" width="2.6" height="2.6" fill="#FFA9AF"/><rect x="112.3" y="322.3" width="2.6" height="2.6" fill="#FFA9AF"/><circle cx="146.3" cy="346.0" r="1.25" fill="none" stroke="#5C5CC6" stroke-width="0.75"/><rect x="114.6" y="318.2" width="2.6" height="2.6" fill="#FFA9AF"/><rect x="69.3" y="380.1" width="2.6" height="2.6" fill="#FFA9AF"/><rect x="165.9" y="375.6" width="2.6" height="2.6" fill="#FFA9AF"/><rect x="72.2" y="380.0" width="2.6" height="2.6" fill="#FFA9AF"/><rect x="108.3" y="310.1" width="2.6" height="2.6" fill="#FFA9AF"/><circle cx="155.4" cy="380.7" r="1.25" fill="none" stroke="#5C5CC6" stroke-width="0.75"/><circle cx="150.5" cy="390.8" r="1.25" fill="none" stroke="#5C5CC6" stroke-width="0.75"/><rect x="122.1" y="335.1" width="2.6" height="2.6" fill="#FFA9AF"/><rect x="137.9" y="369.4" width="2.6" height="2.6" fill="#FFA9AF"/><circle cx="99.0" cy="386.5" r="1.25" fill="none" stroke="#5C5CC6" stroke-width="0.75"/><rect x="169.8" y="386.8" width="2.6" height="2.6" fill="#FFA9AF"/><rect x="27.7" y="425.5" width="2.6" height="2.6" fill="#FFA9AF"/><circle cx="113.6" cy="399.6" r="1.25" fill="none" stroke="#5C5CC6" stroke-width="0.75"/><rect x="108.6" y="341.0" width="2.6" height="2.6" fill="#FFA9AF"/><circle cx="108.6" cy="417.8" r="1.25" fill="none" stroke="#5C5CC6" stroke-width="0.75"/><rect x="105.2" y="306.2" width="2.6" height="2.6" fill="#FFA9AF"/><circle cx="147.1" cy="351.9" r="1.25" fill="none" stroke="#5C5CC6" stroke-width="0.75"/><rect x="169.2" y="378.9" width="2.6" height="2.6" fill="#FFA9AF"/><circle cx="94.1" cy="336.8" r="1.25" fill="none" stroke="#5C5CC6" stroke-width="0.75"/><rect x="160.3" y="372.1" width="2.6" height="2.6" fill="#FFA9AF"/><circle cx="184.2" cy="411.1" r="1.25" fill="none" stroke="#5C5CC6" stroke-width="0.75"/><circle cx="162.2" cy="380.2" r="1.25" fill="none" stroke="#5C5CC6" stroke-width="0.75"/><circle cx="157.8" cy="381.6" r="1.25" fill="none" stroke="#5C5CC6" stroke-width="0.75"/><rect x="166.6" y="428.0" width="2.6" height="2.6" fill="#FFA9AF"/><rect x="65.5" y="367.1" width="2.6" height="2.6" fill="#FFA9AF"/><circle cx="130.4" cy="429.5" r="1.25" fill="none" stroke="#5C5CC6" stroke-width="0.75"/><rect x="87.2" y="388.9" width="2.6" height="2.6" fill="#FFA9AF"/><rect x="162.5" y="381.1" width="2.6" height="2.6" fill="#FFA9AF"/><circle cx="45.5" cy="436.7" r="1.25" fill="none" stroke="#5C5CC6" stroke-width="0.75"/><rect x="75.7" y="363.5" width="2.6" height="2.6" fill="#FFA9AF"/><rect x="47.6" y="398.2" width="2.6" height="2.6" fill="#FFA9AF"/><circle cx="49.7" cy="431.2" r="1.25" fill="none" stroke="#5C5CC6" stroke-width="0.75"/><rect x="127.9" y="326.5" width="2.6" height="2.6" fill="#FFA9AF"/><circle cx="118.5" cy="318.4" r="1.25" fill="none" stroke="#5C5CC6" stroke-width="0.75"/><rect x="138.3" y="336.0" width="2.6" height="2.6" fill="#FFA9AF"/><rect x="145.3" y="351.0" width="2.6" height="2.6" fill="#FFA9AF"/><rect x="105.8" y="398.0" width="2.6" height="2.6" fill="#FFA9AF"/><rect x="164.1" y="379.8" width="2.6" height="2.6" fill="#FFA9AF"/><rect x="168.0" y="389.1" width="2.6" height="2.6" fill="#FFA9AF"/><circle cx="137.2" cy="396.0" r="1.25" fill="none" stroke="#5C5CC6" stroke-width="0.75"/><circle cx="123.8" cy="343.0" r="1.25" fill="none" stroke="#5C5CC6" stroke-width="0.75"/><circle cx="136.9" cy="434.6" r="1.25" fill="none" stroke="#5C5CC6" stroke-width="0.75"/><rect x="104.9" y="315.5" width="2.6" height="2.6" fill="#FFA9AF"/><circle cx="191.1" cy="417.3" r="1.25" fill="none" stroke="#5C5CC6" stroke-width="0.75"/><rect x="178.7" y="409.2" width="2.6" height="2.6" fill="#FFA9AF"/><circle cx="194.8" cy="417.9" r="1.25" fill="none" stroke="#5C5CC6" stroke-width="0.75"/><rect x="162.2" y="369.7" width="2.6" height="2.6" fill="#FFA9AF"/><rect x="131.4" y="428.2" width="2.6" height="2.6" fill="#FFA9AF"/><rect x="152.9" y="351.0" width="2.6" height="2.6" fill="#FFA9AF"/><rect x="129.0" y="333.9" width="2.6" height="2.6" fill="#FFA9AF"/><circle cx="42.7" cy="439.7" r="1.25" fill="none" stroke="#5C5CC6" stroke-width="0.75"/><circle cx="151.8" cy="368.5" r="1.25" fill="none" stroke="#5C5CC6" stroke-width="0.75"/><circle cx="156.1" cy="378.6" r="1.25" fill="none" stroke="#5C5CC6" stroke-width="0.75"/><rect x="90.8" y="359.7" width="2.6" height="2.6" fill="#FFA9AF"/><circle cx="66.2" cy="422.4" r="1.25" fill="none" stroke="#5C5CC6" stroke-width="0.75"/><rect x="108.1" y="428.3" width="2.6" height="2.6" fill="#FFA9AF"/><circle cx="78.0" cy="417.3" r="1.25" fill="none" stroke="#5C5CC6" stroke-width="0.75"/><circle cx="192.4" cy="434.2" r="1.25" fill="none" stroke="#5C5CC6" stroke-width="0.75"/><circle cx="130.3" cy="360.6" r="1.25" fill="none" stroke="#5C5CC6" stroke-width="0.75"/><circle cx="50.4" cy="430.9" r="1.25" fill="none" stroke="#5C5CC6" stroke-width="0.75"/><rect x="115.1" y="315.7" width="2.6" height="2.6" fill="#FFA9AF"/><rect x="145.5" y="357.6" width="2.6" height="2.6" fill="#FFA9AF"/><rect x="80.7" y="359.9" width="2.6" height="2.6" fill="#FFA9AF"/><rect x="183.0" y="383.5" width="2.6" height="2.6" fill="#FFA9AF"/><circle cx="160.4" cy="396.7" r="1.25" fill="none" stroke="#5C5CC6" stroke-width="0.75"/><circle cx="161.8" cy="394.7" r="1.25" fill="none" stroke="#5C5CC6" stroke-width="0.75"/><rect x="76.4" y="401.1" width="2.6" height="2.6" fill="#FFA9AF"/><rect x="137.3" y="353.9" width="2.6" height="2.6" fill="#FFA9AF"/><circle cx="85.0" cy="407.9" r="1.25" fill="none" stroke="#5C5CC6" stroke-width="0.75"/><rect x="162.4" y="378.7" width="2.6" height="2.6" fill="#FFA9AF"/><rect x="146.3" y="353.5" width="2.6" height="2.6" fill="#FFA9AF"/><rect x="64.7" y="354.5" width="2.6" height="2.6" fill="#FFA9AF"/><rect x="128.5" y="359.5" width="2.6" height="2.6" fill="#FFA9AF"/><circle cx="53.9" cy="436.6" r="1.25" fill="none" stroke="#5C5CC6" stroke-width="0.75"/><rect x="153.2" y="350.8" width="2.6" height="2.6" fill="#FFA9AF"/><rect x="115.8" y="311.2" width="2.6" height="2.6" fill="#FFA9AF"/><rect x="95.1" y="316.5" width="2.6" height="2.6" fill="#FFA9AF"/><rect x="95.2" y="383.4" width="2.6" height="2.6" fill="#FFA9AF"/><rect x="163.5" y="374.3" width="2.6" height="2.6" fill="#FFA9AF"/><rect x="89.7" y="402.1" width="2.6" height="2.6" fill="#FFA9AF"/><rect x="126.6" y="325.7" width="2.6" height="2.6" fill="#FFA9AF"/><rect x="114.3" y="342.4" width="2.6" height="2.6" fill="#FFA9AF"/><circle cx="34.6" cy="402.1" r="1.25" fill="none" stroke="#5C5CC6" stroke-width="0.75"/><rect x="70.4" y="359.8" width="2.6" height="2.6" fill="#FFA9AF"/><rect x="132.3" y="339.4" width="2.6" height="2.6" fill="#FFA9AF"/><circle cx="123.0" cy="363.0" r="1.25" fill="none" stroke="#5C5CC6" stroke-width="0.75"/><circle cx="95.2" cy="416.3" r="1.25" fill="none" stroke="#5C5CC6" stroke-width="0.75"/><rect x="170.6" y="375.9" width="2.6" height="2.6" fill="#FFA9AF"/><circle cx="137.3" cy="340.1" r="1.25" fill="none" stroke="#5C5CC6" stroke-width="0.75"/><rect x="137.8" y="328.9" width="2.6" height="2.6" fill="#FFA9AF"/><circle cx="33.8" cy="420.5" r="1.25" fill="none" stroke="#5C5CC6" stroke-width="0.75"/><circle cx="85.6" cy="321.9" r="1.25" fill="none" stroke="#5C5CC6" stroke-width="0.75"/><circle cx="188.4" cy="409.7" r="1.25" fill="none" stroke="#5C5CC6" stroke-width="0.75"/><rect x="115.4" y="356.3" width="2.6" height="2.6" fill="#FFA9AF"/><rect x="170.8" y="390.2" width="2.6" height="2.6" fill="#FFA9AF"/><circle cx="133.6" cy="358.1" r="1.25" fill="none" stroke="#5C5CC6" stroke-width="0.75"/><circle cx="107.1" cy="430.6" r="1.25" fill="none" stroke="#5C5CC6" stroke-width="0.75"/><rect x="149.6" y="361.8" width="2.6" height="2.6" fill="#FFA9AF"/><circle cx="194.3" cy="423.2" r="1.25" fill="none" stroke="#5C5CC6" stroke-width="0.75"/><rect x="80.2" y="376.8" width="2.6" height="2.6" fill="#FFA9AF"/><rect x="138.8" y="367.9" width="2.6" height="2.6" fill="#FFA9AF"/><rect x="138.7" y="343.4" width="2.6" height="2.6" fill="#FFA9AF"/><rect x="131.4" y="334.9" width="2.6" height="2.6" fill="#FFA9AF"/><circle cx="84.1" cy="331.0" r="1.25" fill="none" stroke="#5C5CC6" stroke-width="0.75"/><rect x="127.9" y="327.9" width="2.6" height="2.6" fill="#FFA9AF"/><rect x="74.0" y="383.5" width="2.6" height="2.6" fill="#FFA9AF"/><rect x="135.3" y="366.3" width="2.6" height="2.6" fill="#FFA9AF"/><rect x="138.9" y="384.5" width="2.6" height="2.6" fill="#FFA9AF"/><rect x="89.6" y="405.9" width="2.6" height="2.6" fill="#FFA9AF"/><rect x="159.6" y="358.2" width="2.6" height="2.6" fill="#FFA9AF"/><circle cx="171.7" cy="377.4" r="1.25" fill="none" stroke="#5C5CC6" stroke-width="0.75"/><circle cx="181.1" cy="408.0" r="1.25" fill="none" stroke="#5C5CC6" stroke-width="0.75"/><rect x="149.7" y="364.6" width="2.6" height="2.6" fill="#FFA9AF"/><circle cx="199.5" cy="424.6" r="1.25" fill="none" stroke="#5C5CC6" stroke-width="0.75"/><circle cx="112.4" cy="338.0" r="1.25" fill="none" stroke="#5C5CC6" stroke-width="0.75"/><rect x="97.9" y="352.5" width="2.6" height="2.6" fill="#FFA9AF"/><circle cx="69.1" cy="367.4" r="1.25" fill="none" stroke="#5C5CC6" stroke-width="0.75"/><rect x="176.5" y="387.9" width="2.6" height="2.6" fill="#FFA9AF"/><rect x="116.8" y="313.0" width="2.6" height="2.6" fill="#FFA9AF"/><circle cx="53.9" cy="394.1" r="1.25" fill="none" stroke="#5C5CC6" stroke-width="0.75"/><rect x="141.9" y="361.8" width="2.6" height="2.6" fill="#FFA9AF"/><rect x="90.6" y="378.5" width="2.6" height="2.6" fill="#FFA9AF"/><rect x="74.2" y="368.1" width="2.6" height="2.6" fill="#FFA9AF"/><circle cx="145.4" cy="440.4" r="1.25" fill="none" stroke="#5C5CC6" stroke-width="0.75"/><rect x="142.3" y="357.1" width="2.6" height="2.6" fill="#FFA9AF"/><rect x="128.6" y="333.4" width="2.6" height="2.6" fill="#FFA9AF"/><rect x="158.9" y="369.9" width="2.6" height="2.6" fill="#FFA9AF"/><rect x="126.6" y="350.0" width="2.6" height="2.6" fill="#FFA9AF"/><rect x="119.1" y="360.3" width="2.6" height="2.6" fill="#FFA9AF"/><rect x="183.9" y="407.2" width="2.6" height="2.6" fill="#FFA9AF"/><rect x="150.2" y="404.1" width="2.6" height="2.6" fill="#FFA9AF"/><circle cx="119.5" cy="376.6" r="1.25" fill="none" stroke="#5C5CC6" stroke-width="0.75"/><circle cx="197.4" cy="429.1" r="1.25" fill="none" stroke="#5C5CC6" stroke-width="0.75"/><rect x="167.6" y="395.7" width="2.6" height="2.6" fill="#FFA9AF"/><rect x="181.6" y="420.8" width="2.6" height="2.6" fill="#FFA9AF"/><rect x="147.8" y="365.2" width="2.6" height="2.6" fill="#FFA9AF"/><circle cx="156.3" cy="402.9" r="1.25" fill="none" stroke="#5C5CC6" stroke-width="0.75"/><rect x="132.0" y="360.5" width="2.6" height="2.6" fill="#FFA9AF"/><circle cx="87.8" cy="376.2" r="1.25" fill="none" stroke="#5C5CC6" stroke-width="0.75"/><circle cx="127.1" cy="370.9" r="1.25" fill="none" stroke="#5C5CC6" stroke-width="0.75"/><circle cx="42.0" cy="404.5" r="1.25" fill="none" stroke="#5C5CC6" stroke-width="0.75"/><rect x="58.7" y="427.7" width="2.6" height="2.6" fill="#FFA9AF"/><rect x="138.5" y="397.9" width="2.6" height="2.6" fill="#FFA9AF"/><rect x="39.9" y="376.7" width="2.6" height="2.6" fill="#FFA9AF"/><rect x="75.5" y="372.1" width="2.6" height="2.6" fill="#FFA9AF"/><rect x="103.0" y="358.3" width="2.6" height="2.6" fill="#FFA9AF"/><circle cx="92.4" cy="387.9" r="1.25" fill="none" stroke="#5C5CC6" stroke-width="0.75"/><rect x="99.6" y="321.7" width="2.6" height="2.6" fill="#FFA9AF"/><rect x="144.4" y="356.2" width="2.6" height="2.6" fill="#FFA9AF"/><rect x="191.5" y="394.9" width="2.6" height="2.6" fill="#FFA9AF"/><rect x="172.9" y="376.6" width="2.6" height="2.6" fill="#FFA9AF"/><rect x="79.5" y="348.6" width="2.6" height="2.6" fill="#FFA9AF"/><circle cx="96.4" cy="413.3" r="1.25" fill="none" stroke="#5C5CC6" stroke-width="0.75"/><circle cx="102.9" cy="307.2" r="1.25" fill="none" stroke="#5C5CC6" stroke-width="0.75"/><rect x="93.5" y="362.3" width="2.6" height="2.6" fill="#FFA9AF"/><rect x="129.5" y="337.9" width="2.6" height="2.6" fill="#FFA9AF"/><rect x="50.7" y="385.8" width="2.6" height="2.6" fill="#FFA9AF"/><rect x="88.7" y="321.7" width="2.6" height="2.6" fill="#FFA9AF"/><rect x="70.1" y="357.4" width="2.6" height="2.6" fill="#FFA9AF"/><rect x="49.9" y="404.4" width="2.6" height="2.6" fill="#FFA9AF"/><circle cx="167.6" cy="433.2" r="1.25" fill="none" stroke="#5C5CC6" stroke-width="0.75"/><circle cx="51.7" cy="414.3" r="1.25" fill="none" stroke="#5C5CC6" stroke-width="0.75"/><rect x="182.8" y="399.5" width="2.6" height="2.6" fill="#FFA9AF"/><rect x="117.8" y="441.0" width="2.6" height="2.6" fill="#FFA9AF"/><circle cx="142.2" cy="356.3" r="1.25" fill="none" stroke="#5C5CC6" stroke-width="0.75"/><rect x="51.0" y="388.7" width="2.6" height="2.6" fill="#FFA9AF"/><rect x="205.0" y="425.0" width="2.6" height="2.6" fill="#FFA9AF"/><circle cx="47.9" cy="427.4" r="1.25" fill="none" stroke="#5C5CC6" stroke-width="0.75"/><circle cx="138.8" cy="393.3" r="1.25" fill="none" stroke="#5C5CC6" stroke-width="0.75"/><rect x="53.5" y="367.6" width="2.6" height="2.6" fill="#FFA9AF"/><circle cx="50.0" cy="385.8" r="1.25" fill="none" stroke="#5C5CC6" stroke-width="0.75"/><rect x="109.4" y="308.5" width="2.6" height="2.6" fill="#FFA9AF"/><rect x="171.1" y="386.7" width="2.6" height="2.6" fill="#FFA9AF"/><rect x="127.0" y="334.1" width="2.6" height="2.6" fill="#FFA9AF"/><rect x="62.8" y="363.8" width="2.6" height="2.6" fill="#FFA9AF"/><rect x="63.8" y="373.4" width="2.6" height="2.6" fill="#FFA9AF"/><circle cx="128.8" cy="331.8" r="1.25" fill="none" stroke="#5C5CC6" stroke-width="0.75"/><rect x="120.2" y="327.5" width="2.6" height="2.6" fill="#FFA9AF"/><rect x="166.1" y="372.5" width="2.6" height="2.6" fill="#FFA9AF"/><rect x="173.1" y="378.7" width="2.6" height="2.6" fill="#FFA9AF"/><rect x="84.8" y="372.6" width="2.6" height="2.6" fill="#FFA9AF"/><rect x="180.6" y="388.5" width="2.6" height="2.6" fill="#FFA9AF"/><rect x="189.8" y="390.5" width="2.6" height="2.6" fill="#FFA9AF"/><rect x="64.8" y="374.1" width="2.6" height="2.6" fill="#FFA9AF"/><circle cx="132.4" cy="328.9" r="1.25" fill="none" stroke="#5C5CC6" stroke-width="0.75"/><circle cx="150.7" cy="376.8" r="1.25" fill="none" stroke="#5C5CC6" stroke-width="0.75"/><circle cx="48.9" cy="411.2" r="1.25" fill="none" stroke="#5C5CC6" stroke-width="0.75"/><rect x="128.5" y="329.2" width="2.6" height="2.6" fill="#FFA9AF"/><rect x="110.8" y="369.2" width="2.6" height="2.6" fill="#FFA9AF"/><rect x="80.7" y="338.0" width="2.6" height="2.6" fill="#FFA9AF"/><circle cx="173.1" cy="377.3" r="1.25" fill="none" stroke="#5C5CC6" stroke-width="0.75"/><rect x="127.2" y="326.3" width="2.6" height="2.6" fill="#FFA9AF"/><circle cx="75.9" cy="388.4" r="1.25" fill="none" stroke="#5C5CC6" stroke-width="0.75"/><rect x="165.7" y="383.9" width="2.6" height="2.6" fill="#FFA9AF"/><rect x="150.2" y="348.7" width="2.6" height="2.6" fill="#FFA9AF"/><circle cx="135.8" cy="343.5" r="1.25" fill="none" stroke="#5C5CC6" stroke-width="0.75"/><rect x="165.5" y="378.6" width="2.6" height="2.6" fill="#FFA9AF"/><rect x="86.3" y="371.7" width="2.6" height="2.6" fill="#FFA9AF"/><circle cx="66.1" cy="370.2" r="1.25" fill="none" stroke="#5C5CC6" stroke-width="0.75"/><rect x="134.9" y="369.1" width="2.6" height="2.6" fill="#FFA9AF"/><rect x="34.1" y="393.1" width="2.6" height="2.6" fill="#FFA9AF"/><rect x="172.7" y="387.5" width="2.6" height="2.6" fill="#FFA9AF"/><rect x="71.5" y="419.6" width="2.6" height="2.6" fill="#FFA9AF"/><rect x="103.7" y="367.4" width="2.6" height="2.6" fill="#FFA9AF"/><rect x="182.7" y="398.1" width="2.6" height="2.6" fill="#FFA9AF"/><circle cx="173.3" cy="382.5" r="1.25" fill="none" stroke="#5C5CC6" stroke-width="0.75"/><rect x="118.4" y="446.9" width="2.6" height="2.6" fill="#FFA9AF"/><rect x="96.4" y="337.8" width="2.6" height="2.6" fill="#FFA9AF"/><rect x="122.2" y="320.4" width="2.6" height="2.6" fill="#FFA9AF"/><rect x="121.6" y="381.1" width="2.6" height="2.6" fill="#FFA9AF"/><circle cx="155.1" cy="369.7" r="1.25" fill="none" stroke="#5C5CC6" stroke-width="0.75"/><rect x="143.5" y="343.0" width="2.6" height="2.6" fill="#FFA9AF"/><rect x="120.3" y="435.2" width="2.6" height="2.6" fill="#FFA9AF"/><rect x="152.3" y="361.0" width="2.6" height="2.6" fill="#FFA9AF"/><rect x="196.7" y="418.3" width="2.6" height="2.6" fill="#FFA9AF"/><rect x="144.4" y="391.1" width="2.6" height="2.6" fill="#FFA9AF"/><rect x="169.5" y="371.4" width="2.6" height="2.6" fill="#FFA9AF"/><rect x="123.5" y="338.7" width="2.6" height="2.6" fill="#FFA9AF"/><rect x="175.7" y="399.9" width="2.6" height="2.6" fill="#FFA9AF"/><circle cx="67.9" cy="430.7" r="1.25" fill="none" stroke="#5C5CC6" stroke-width="0.75"/><rect x="178.6" y="397.4" width="2.6" height="2.6" fill="#FFA9AF"/><rect x="88.8" y="322.8" width="2.6" height="2.6" fill="#FFA9AF"/><rect x="90.0" y="326.2" width="2.6" height="2.6" fill="#FFA9AF"/><rect x="77.7" y="399.9" width="2.6" height="2.6" fill="#FFA9AF"/><rect x="163.6" y="379.5" width="2.6" height="2.6" fill="#FFA9AF"/><circle cx="115.5" cy="403.5" r="1.25" fill="none" stroke="#5C5CC6" stroke-width="0.75"/><rect x="138.8" y="345.9" width="2.6" height="2.6" fill="#FFA9AF"/><circle cx="55.4" cy="427.7" r="1.25" fill="none" stroke="#5C5CC6" stroke-width="0.75"/><rect x="181.0" y="410.4" width="2.6" height="2.6" fill="#FFA9AF"/><rect x="104.7" y="394.5" width="2.6" height="2.6" fill="#FFA9AF"/><rect x="150.0" y="377.0" width="2.6" height="2.6" fill="#FFA9AF"/><rect x="108.7" y="395.9" width="2.6" height="2.6" fill="#FFA9AF"/><rect x="105.7" y="379.3" width="2.6" height="2.6" fill="#FFA9AF"/><rect x="156.8" y="373.3" width="2.6" height="2.6" fill="#FFA9AF"/><rect x="94.7" y="315.7" width="2.6" height="2.6" fill="#FFA9AF"/><circle cx="135.9" cy="352.1" r="1.25" fill="none" stroke="#5C5CC6" stroke-width="0.75"/><rect x="78.2" y="419.7" width="2.6" height="2.6" fill="#FFA9AF"/><rect x="105.1" y="352.8" width="2.6" height="2.6" fill="#FFA9AF"/><rect x="147.7" y="375.9" width="2.6" height="2.6" fill="#FFA9AF"/><circle cx="107.4" cy="302.6" r="1.25" fill="none" stroke="#5C5CC6" stroke-width="0.75"/><rect x="158.1" y="366.2" width="2.6" height="2.6" fill="#FFA9AF"/><circle cx="107.4" cy="443.0" r="1.25" fill="none" stroke="#5C5CC6" stroke-width="0.75"/><rect x="50.3" y="396.9" width="2.6" height="2.6" fill="#FFA9AF"/><rect x="160.5" y="370.1" width="2.6" height="2.6" fill="#FFA9AF"/><circle cx="114.4" cy="378.8" r="1.25" fill="none" stroke="#5C5CC6" stroke-width="0.75"/><circle cx="161.6" cy="380.5" r="1.25" fill="none" stroke="#5C5CC6" stroke-width="0.75"/><rect x="172.1" y="394.5" width="2.6" height="2.6" fill="#FFA9AF"/><rect x="156.7" y="360.6" width="2.6" height="2.6" fill="#FFA9AF"/><circle cx="142.2" cy="376.2" r="1.25" fill="none" stroke="#5C5CC6" stroke-width="0.75"/><rect x="49.2" y="371.1" width="2.6" height="2.6" fill="#FFA9AF"/><rect x="93.6" y="351.6" width="2.6" height="2.6" fill="#FFA9AF"/><rect x="163.0" y="374.6" width="2.6" height="2.6" fill="#FFA9AF"/><rect x="161.2" y="381.6" width="2.6" height="2.6" fill="#FFA9AF"/><rect x="163.2" y="374.0" width="2.6" height="2.6" fill="#FFA9AF"/><rect x="139.1" y="327.9" width="2.6" height="2.6" fill="#FFA9AF"/><rect x="98.0" y="400.7" width="2.6" height="2.6" fill="#FFA9AF"/><rect x="185.9" y="399.8" width="2.6" height="2.6" fill="#FFA9AF"/><rect x="101.5" y="433.0" width="2.6" height="2.6" fill="#FFA9AF"/><circle cx="77.2" cy="373.0" r="1.25" fill="none" stroke="#5C5CC6" stroke-width="0.75"/><rect x="170.3" y="402.2" width="2.6" height="2.6" fill="#FFA9AF"/><circle cx="116.1" cy="399.5" r="1.25" fill="none" stroke="#5C5CC6" stroke-width="0.75"/><rect x="152.4" y="360.2" width="2.6" height="2.6" fill="#FFA9AF"/><rect x="156.2" y="371.6" width="2.6" height="2.6" fill="#FFA9AF"/><rect x="159.7" y="367.8" width="2.6" height="2.6" fill="#FFA9AF"/><rect x="161.9" y="379.6" width="2.6" height="2.6" fill="#FFA9AF"/><circle cx="189.5" cy="424.3" r="1.25" fill="none" stroke="#5C5CC6" stroke-width="0.75"/><rect x="111.2" y="317.9" width="2.6" height="2.6" fill="#FFA9AF"/><rect x="144.4" y="392.1" width="2.6" height="2.6" fill="#FFA9AF"/><rect x="194.3" y="431.9" width="2.6" height="2.6" fill="#FFA9AF"/><rect x="102.9" y="347.0" width="2.6" height="2.6" fill="#FFA9AF"/><circle cx="60.5" cy="425.5" r="1.25" fill="none" stroke="#5C5CC6" stroke-width="0.75"/><circle cx="138.4" cy="393.6" r="1.25" fill="none" stroke="#5C5CC6" stroke-width="0.75"/><circle cx="106.3" cy="373.5" r="1.25" fill="none" stroke="#5C5CC6" stroke-width="0.75"/><rect x="192.5" y="414.2" width="2.6" height="2.6" fill="#FFA9AF"/><circle cx="114.7" cy="364.8" r="1.25" fill="none" stroke="#5C5CC6" stroke-width="0.75"/><rect x="150.7" y="395.3" width="2.6" height="2.6" fill="#FFA9AF"/><rect x="102.9" y="406.7" width="2.6" height="2.6" fill="#FFA9AF"/><rect x="182.1" y="413.9" width="2.6" height="2.6" fill="#FFA9AF"/><rect x="102.8" y="430.1" width="2.6" height="2.6" fill="#FFA9AF"/><circle cx="132.0" cy="384.4" r="1.25" fill="none" stroke="#5C5CC6" stroke-width="0.75"/><circle cx="54.7" cy="411.6" r="1.25" fill="none" stroke="#5C5CC6" stroke-width="0.75"/><rect x="97.7" y="314.7" width="2.6" height="2.6" fill="#FFA9AF"/><rect x="191.6" y="419.6" width="2.6" height="2.6" fill="#FFA9AF"/><rect x="81.1" y="358.7" width="2.6" height="2.6" fill="#FFA9AF"/><rect x="187.8" y="410.4" width="2.6" height="2.6" fill="#FFA9AF"/><rect x="122.1" y="383.4" width="2.6" height="2.6" fill="#FFA9AF"/><circle cx="163.3" cy="373.0" r="1.25" fill="none" stroke="#5C5CC6" stroke-width="0.75"/><rect x="159.4" y="382.8" width="2.6" height="2.6" fill="#FFA9AF"/><circle cx="198.8" cy="429.5" r="1.25" fill="none" stroke="#5C5CC6" stroke-width="0.75"/><circle cx="157.3" cy="362.6" r="1.25" fill="none" stroke="#5C5CC6" stroke-width="0.75"/><rect x="154.2" y="368.6" width="2.6" height="2.6" fill="#FFA9AF"/><rect x="117.7" y="333.6" width="2.6" height="2.6" fill="#FFA9AF"/><rect x="85.7" y="325.5" width="2.6" height="2.6" fill="#FFA9AF"/><rect x="51.9" y="381.5" width="2.6" height="2.6" fill="#FFA9AF"/><circle cx="152.8" cy="363.2" r="1.25" fill="none" stroke="#5C5CC6" stroke-width="0.75"/><rect x="139.0" y="342.5" width="2.6" height="2.6" fill="#FFA9AF"/><circle cx="185.2" cy="399.7" r="1.25" fill="none" stroke="#5C5CC6" stroke-width="0.75"/><rect x="127.2" y="403.9" width="2.6" height="2.6" fill="#FFA9AF"/><rect x="152.0" y="351.4" width="2.6" height="2.6" fill="#FFA9AF"/><rect x="146.5" y="358.7" width="2.6" height="2.6" fill="#FFA9AF"/><rect x="142.8" y="351.9" width="2.6" height="2.6" fill="#FFA9AF"/><rect x="79.5" y="347.5" width="2.6" height="2.6" fill="#FFA9AF"/><rect x="70.1" y="453.4" width="2.6" height="2.6" fill="#FFA9AF"/><rect x="123.3" y="382.9" width="2.6" height="2.6" fill="#FFA9AF"/><rect x="183.7" y="408.1" width="2.6" height="2.6" fill="#FFA9AF"/><circle cx="123.4" cy="389.1" r="1.25" fill="none" stroke="#5C5CC6" stroke-width="0.75"/><rect x="135.3" y="337.6" width="2.6" height="2.6" fill="#FFA9AF"/><rect x="151.5" y="373.8" width="2.6" height="2.6" fill="#FFA9AF"/><rect x="128.0" y="330.1" width="2.6" height="2.6" fill="#FFA9AF"/><rect x="65.0" y="394.3" width="2.6" height="2.6" fill="#FFA9AF"/><rect x="167.4" y="378.0" width="2.6" height="2.6" fill="#FFA9AF"/><rect x="115.5" y="322.8" width="2.6" height="2.6" fill="#FFA9AF"/><rect x="143.5" y="367.4" width="2.6" height="2.6" fill="#FFA9AF"/><rect x="142.0" y="346.7" width="2.6" height="2.6" fill="#FFA9AF"/><rect x="160.2" y="393.1" width="2.6" height="2.6" fill="#FFA9AF"/><circle cx="97.7" cy="369.8" r="1.25" fill="none" stroke="#5C5CC6" stroke-width="0.75"/><circle cx="176.8" cy="406.7" r="1.25" fill="none" stroke="#5C5CC6" stroke-width="0.75"/><rect x="149.2" y="416.3" width="2.6" height="2.6" fill="#FFA9AF"/><circle cx="93.4" cy="323.2" r="1.25" fill="none" stroke="#5C5CC6" stroke-width="0.75"/><rect x="146.3" y="356.3" width="2.6" height="2.6" fill="#FFA9AF"/><rect x="171.4" y="386.7" width="2.6" height="2.6" fill="#FFA9AF"/><circle cx="43.1" cy="412.8" r="1.25" fill="none" stroke="#5C5CC6" stroke-width="0.75"/><rect x="191.6" y="421.2" width="2.6" height="2.6" fill="#FFA9AF"/><rect x="159.8" y="373.3" width="2.6" height="2.6" fill="#FFA9AF"/><circle cx="100.9" cy="430.1" r="1.25" fill="none" stroke="#5C5CC6" stroke-width="0.75"/><rect x="112.5" y="351.7" width="2.6" height="2.6" fill="#FFA9AF"/><rect x="111.8" y="320.4" width="2.6" height="2.6" fill="#FFA9AF"/><circle cx="125.0" cy="346.3" r="1.25" fill="none" stroke="#5C5CC6" stroke-width="0.75"/><rect x="159.6" y="383.7" width="2.6" height="2.6" fill="#FFA9AF"/><circle cx="175.0" cy="393.2" r="1.25" fill="none" stroke="#5C5CC6" stroke-width="0.75"/><rect x="161.3" y="373.0" width="2.6" height="2.6" fill="#FFA9AF"/><circle cx="109.2" cy="389.0" r="1.25" fill="none" stroke="#5C5CC6" stroke-width="0.75"/><rect x="193.3" y="415.9" width="2.6" height="2.6" fill="#FFA9AF"/><rect x="132.0" y="404.4" width="2.6" height="2.6" fill="#FFA9AF"/><rect x="179.4" y="406.1" width="2.6" height="2.6" fill="#FFA9AF"/><rect x="79.1" y="352.0" width="2.6" height="2.6" fill="#FFA9AF"/><rect x="46.1" y="415.0" width="2.6" height="2.6" fill="#FFA9AF"/><rect x="158.8" y="373.2" width="2.6" height="2.6" fill="#FFA9AF"/><rect x="79.0" y="390.3" width="2.6" height="2.6" fill="#FFA9AF"/><rect x="131.1" y="333.8" width="2.6" height="2.6" fill="#FFA9AF"/><circle cx="74.1" cy="428.8" r="1.25" fill="none" stroke="#5C5CC6" stroke-width="0.75"/><rect x="99.4" y="372.8" width="2.6" height="2.6" fill="#FFA9AF"/><rect x="137.3" y="370.6" width="2.6" height="2.6" fill="#FFA9AF"/><circle cx="86.3" cy="363.6" r="1.25" fill="none" stroke="#5C5CC6" stroke-width="0.75"/><rect x="170.3" y="435.5" width="2.6" height="2.6" fill="#FFA9AF"/><circle cx="160.5" cy="374.6" r="1.25" fill="none" stroke="#5C5CC6" stroke-width="0.75"/><rect x="124.9" y="398.6" width="2.6" height="2.6" fill="#FFA9AF"/><rect x="173.1" y="419.0" width="2.6" height="2.6" fill="#FFA9AF"/><circle cx="202.5" cy="423.0" r="1.25" fill="none" stroke="#5C5CC6" stroke-width="0.75"/><rect x="122.3" y="342.8" width="2.6" height="2.6" fill="#FFA9AF"/><rect x="196.0" y="431.0" width="2.6" height="2.6" fill="#FFA9AF"/><rect x="110.3" y="309.5" width="2.6" height="2.6" fill="#FFA9AF"/><rect x="139.5" y="355.0" width="2.6" height="2.6" fill="#FFA9AF"/><rect x="57.6" y="438.7" width="2.6" height="2.6" fill="#FFA9AF"/><rect x="54.3" y="401.3" width="2.6" height="2.6" fill="#FFA9AF"/><circle cx="149.2" cy="351.3" r="1.25" fill="none" stroke="#5C5CC6" stroke-width="0.75"/><circle cx="130.6" cy="412.5" r="1.25" fill="none" stroke="#5C5CC6" stroke-width="0.75"/><circle cx="148.8" cy="354.5" r="1.25" fill="none" stroke="#5C5CC6" stroke-width="0.75"/><circle cx="90.1" cy="429.5" r="1.25" fill="none" stroke="#5C5CC6" stroke-width="0.75"/><circle cx="93.8" cy="423.9" r="1.25" fill="none" stroke="#5C5CC6" stroke-width="0.75"/><rect x="182.5" y="400.4" width="2.6" height="2.6" fill="#FFA9AF"/><circle cx="95.8" cy="412.0" r="1.25" fill="none" stroke="#5C5CC6" stroke-width="0.75"/><rect x="76.1" y="424.5" width="2.6" height="2.6" fill="#FFA9AF"/><rect x="107.6" y="372.7" width="2.6" height="2.6" fill="#FFA9AF"/><rect x="141.5" y="339.9" width="2.6" height="2.6" fill="#FFA9AF"/><rect x="108.0" y="304.3" width="2.6" height="2.6" fill="#FFA9AF"/><rect x="194.2" y="413.6" width="2.6" height="2.6" fill="#FFA9AF"/><rect x="173.9" y="402.8" width="2.6" height="2.6" fill="#FFA9AF"/><rect x="97.0" y="335.9" width="2.6" height="2.6" fill="#FFA9AF"/><rect x="159.0" y="426.8" width="2.6" height="2.6" fill="#FFA9AF"/><circle cx="165.3" cy="392.4" r="1.25" fill="none" stroke="#5C5CC6" stroke-width="0.75"/><rect x="134.9" y="347.5" width="2.6" height="2.6" fill="#FFA9AF"/><rect x="163.9" y="384.3" width="2.6" height="2.6" fill="#FFA9AF"/></g>
<line x1="12.70" y1="468.40" x2="12.70" y2="450.00" stroke="#000" stroke-width="1.1"/>
<polygon points="12.7,445.5 9.8,451.5 15.6,451.5" fill="#000"/>
<line x1="12.20" y1="468.40" x2="31.00" y2="468.40" stroke="#000" stroke-width="1.1"/>
<polygon points="36,468.4 30,465.5 30,471.3" fill="#000"/>
<g transform="translate(8.60 441.80) rotate(-90)"><text x="-13.13" y="0" font-size="10.5" font-weight="normal" fill="#1a1a1a">PCo2</text></g>
<g transform="translate(26.50 484.20)"><text x="0.00" y="0" font-size="10.5" font-weight="normal" fill="#1a1a1a">PCo </text><path d="M583,0L583,1102C540,1063 483,1023 413,984C343,945 280,915 225,895L225,1063C325,1108 412,1163 487,1227C562,1292 615,1353 646,1409L763,1409L763,0Z" fill="#1a1a1a" stroke="#1a1a1a" stroke-width="35.1" transform="translate(20.43 0) scale(0.00513 -0.00513)"/></g>
<g transform="translate(246.40 227.10)"><text x="0.00" y="0" font-size="21.7" font-weight="bold" fill="#000">E</text></g>
<line x1="279.50" y1="279.00" x2="279.50" y2="454.00" stroke="#444" stroke-width="1"/>
<line x1="279.00" y1="453.50" x2="455.00" y2="453.50" stroke="#444" stroke-width="1"/>
<line x1="276.50" y1="279.00" x2="279.50" y2="279.00" stroke="#444" stroke-width="1"/>
<g transform="translate(275.20 284.80) scale(0.92 1)"><text x="-31.14" y="0" font-size="16" font-weight="normal" fill="#1a1a1a"> .00</text><path d="M583,0L583,1102C540,1063 483,1023 413,984C343,945 280,915 225,895L225,1063C325,1108 412,1163 487,1227C562,1292 615,1353 646,1409L763,1409L763,0Z" fill="#1a1a1a" stroke="#1a1a1a" stroke-width="23.0" transform="translate(-31.14 0) scale(0.00781 -0.00781)"/></g>
<line x1="276.50" y1="322.55" x2="279.50" y2="322.55" stroke="#444" stroke-width="1"/>
<g transform="translate(275.20 328.35) scale(0.92 1)"><text x="-31.14" y="0" font-size="16" font-weight="normal" fill="#1a1a1a">0.75</text></g>
<line x1="276.50" y1="366.10" x2="279.50" y2="366.10" stroke="#444" stroke-width="1"/>
<g transform="translate(275.20 371.90) scale(0.92 1)"><text x="-31.14" y="0" font-size="16" font-weight="normal" fill="#1a1a1a">0.50</text></g>
<line x1="276.50" y1="409.65" x2="279.50" y2="409.65" stroke="#444" stroke-width="1"/>
<g transform="translate(275.20 415.45) scale(0.92 1)"><text x="-31.14" y="0" font-size="16" font-weight="normal" fill="#1a1a1a">0.25</text></g>
<line x1="276.50" y1="453.20" x2="279.50" y2="453.20" stroke="#444" stroke-width="1"/>
<g transform="translate(275.20 459.00) scale(0.92 1)"><text x="-31.14" y="0" font-size="16" font-weight="normal" fill="#1a1a1a">0.00</text></g>
<rect x="289.55" y="361.10" width="8.40" height="92.10" fill="#45A3CB"/>
<line x1="293.75" y1="453.50" x2="293.75" y2="455.60" stroke="#666" stroke-width="1"/>
<g transform="translate(293.75 468.40) scale(0.95 1)"><text x="-4.34" y="0" font-size="15.6" font-weight="normal" fill="#1a1a1a">2</text></g>
<rect x="314.00" y="351.90" width="8.40" height="101.30" fill="#45A3CB"/>
<line x1="318.20" y1="453.50" x2="318.20" y2="455.60" stroke="#666" stroke-width="1"/>
<g transform="translate(318.20 468.40) scale(0.95 1)"><text x="-4.34" y="0" font-size="15.6" font-weight="normal" fill="#1a1a1a">4</text></g>
<rect x="338.35" y="350.00" width="8.40" height="103.20" fill="#45A3CB"/>
<line x1="342.55" y1="453.50" x2="342.55" y2="455.60" stroke="#666" stroke-width="1"/>
<g transform="translate(342.55 468.40) scale(0.95 1)"><text x="-4.34" y="0" font-size="15.6" font-weight="normal" fill="#1a1a1a">8</text></g>
<rect x="362.50" y="348.40" width="8.40" height="104.80" fill="#45A3CB"/>
<line x1="366.70" y1="453.50" x2="366.70" y2="455.60" stroke="#666" stroke-width="1"/>
<g transform="translate(366.70 468.40) scale(0.95 1)"><text x="-8.68" y="0" font-size="15.6" font-weight="normal" fill="#1a1a1a"> 2</text><path d="M583,0L583,1102C540,1063 483,1023 413,984C343,945 280,915 225,895L225,1063C325,1108 412,1163 487,1227C562,1292 615,1353 646,1409L763,1409L763,0Z" fill="#1a1a1a" stroke="#1a1a1a" stroke-width="23.6" transform="translate(-8.68 0) scale(0.00762 -0.00762)"/></g>
<rect x="387.00" y="350.00" width="8.40" height="103.20" fill="#45A3CB"/>
<line x1="391.20" y1="453.50" x2="391.20" y2="455.60" stroke="#666" stroke-width="1"/>
<g transform="translate(391.20 468.40) scale(0.95 1)"><text x="-8.68" y="0" font-size="15.6" font-weight="normal" fill="#1a1a1a"> 6</text><path d="M583,0L583,1102C540,1063 483,1023 413,984C343,945 280,915 225,895L225,1063C325,1108 412,1163 487,1227C562,1292 615,1353 646,1409L763,1409L763,0Z" fill="#1a1a1a" stroke="#1a1a1a" stroke-width="23.6" transform="translate(-8.68 0) scale(0.00762 -0.00762)"/></g>
<rect x="411.30" y="345.30" width="8.40" height="107.90" fill="#45A3CB"/>
<line x1="415.50" y1="453.50" x2="415.50" y2="455.60" stroke="#666" stroke-width="1"/>
<g transform="translate(415.50 468.40) scale(0.95 1)"><text x="-8.68" y="0" font-size="15.6" font-weight="normal" fill="#1a1a1a">24</text></g>
<rect x="435.70" y="341.80" width="8.40" height="111.40" fill="#45A3CB"/>
<line x1="439.90" y1="453.50" x2="439.90" y2="455.60" stroke="#666" stroke-width="1"/>
<g transform="translate(439.90 468.40) scale(0.95 1)"><text x="-8.68" y="0" font-size="15.6" font-weight="normal" fill="#1a1a1a">32</text></g>
<g transform="translate(366.50 484.20)"><text x="-45.66" y="0" font-size="15.5" font-weight="normal" fill="#1a1a1a"># of Features</text></g>
<g transform="translate(240.00 364.60) rotate(-90)"><text x="-93.79" y="0" font-size="15.7" font-weight="normal" fill="#1a1a1a">Predictive power (AUROC)</text></g>
<g transform="translate(462.80 227.10)"><text x="0.00" y="0" font-size="21.7" font-weight="bold" fill="#000">F</text></g>
<line x1="501.50" y1="269.70" x2="501.50" y2="453.00" stroke="#333" stroke-width="1"/>
<line x1="501.00" y1="452.50" x2="684.30" y2="452.50" stroke="#3a3a3a" stroke-width="1"/>
<line x1="504.50" y1="452.00" x2="673.50" y2="283.00" stroke="#cccccc" stroke-width="1"/>
<path d="M504.50,452.00 L504.51,451.17 L504.53,450.32 L504.58,449.45 L504.64,448.56 L504.72,447.64 L504.81,446.70 L504.93,445.75 L505.06,444.77 L505.21,443.78 L505.37,442.76 L505.56,441.73 L505.76,440.69 L505.98,439.62 L506.21,438.54 L506.47,437.45 L506.74,436.34 L507.03,435.22 L507.33,434.08 L507.66,432.93 L508.00,431.77 L508.36,430.60 L508.73,429.41 L509.13,428.22 L509.54,427.01 L509.97,425.80 L510.41,424.57 L510.88,423.34 L511.36,422.10 L511.86,420.85 L512.37,419.60 L512.91,418.34 L513.46,417.07 L514.03,415.79 L514.61,414.51 L515.22,413.23 L515.84,411.94 L516.47,410.65 L517.13,409.35 L517.80,408.05 L518.50,406.74 L519.20,405.43 L519.93,404.12 L520.67,402.81 L521.43,401.50 L522.21,400.18 L523.01,398.87 L523.82,397.55 L524.65,396.23 L525.50,394.91 L526.37,393.59 L527.25,392.28 L528.15,390.96 L529.07,389.64 L530.01,388.33 L530.96,387.01 L531.93,385.70 L532.92,384.38 L533.92,383.07 L534.95,381.77 L535.99,380.46 L537.05,379.16 L538.12,377.85 L539.22,376.56 L540.33,375.26 L541.46,373.97 L542.60,372.68 L543.77,371.39 L544.95,370.11 L546.14,368.83 L547.36,367.55 L548.59,366.28 L549.84,365.01 L551.11,363.74 L552.40,362.48 L553.70,361.22 L555.02,359.96 L556.36,358.71 L557.72,357.46 L559.09,356.22 L560.48,354.98 L561.89,353.74 L563.31,352.51 L564.76,351.28 L566.22,350.06 L567.70,348.83 L569.19,347.61 L570.71,346.40 L572.24,345.19 L573.78,343.98 L575.35,342.77 L576.93,341.57 L578.53,340.37 L580.15,339.18 L581.79,337.98 L583.44,336.79 L585.11,335.60 L586.80,334.42 L588.51,333.23 L590.23,332.05 L591.97,330.87 L593.73,329.69 L595.50,328.51 L597.30,327.33 L599.11,326.16 L600.94,324.98 L602.78,323.81 L604.64,322.63 L606.52,321.45 L608.42,320.28 L610.34,319.10 L612.27,317.92 L614.22,316.74 L616.19,315.56 L618.18,314.38 L620.18,313.19 L622.20,312.00 L624.24,310.81 L626.29,309.62 L628.37,308.42 L630.46,307.22 L632.56,306.01 L634.69,304.80 L636.83,303.58 L638.99,302.36 L641.17,301.13 L643.37,299.89 L645.58,298.65 L647.81,297.40 L650.06,296.14 L652.32,294.87 L654.61,293.59 L656.91,292.31 L659.22,291.01 L661.56,289.71 L663.91,288.39 L666.28,287.06 L668.67,285.72 L671.08,284.37 L673.50,283.00" fill="none" stroke="#3FA1CC" stroke-width="2.7" stroke-linecap="round" stroke-linejoin="round"/>
<g transform="translate(679.00 422.60)"><text x="-110.57" y="0" font-size="17.3" font-weight="normal" fill="#1a1a1a">AUROC : 0.65</text></g>
<g transform="translate(679.00 442.60)"><text x="-84.62" y="0" font-size="17.3" font-weight="normal" fill="#1a1a1a">(0.56-0.73)</text></g>
<g transform="translate(498.00 279.00) rotate(-90)"><text x="-3.89" y="0" font-size="14" font-weight="normal" fill="#1a1a1a"> </text><path d="M583,0L583,1102C540,1063 483,1023 413,984C343,945 280,915 225,895L225,1063C325,1108 412,1163 487,1227C562,1292 615,1353 646,1409L763,1409L763,0Z" fill="#1a1a1a" stroke="#1a1a1a" stroke-width="26.3" transform="translate(-3.89 0) scale(0.00684 -0.00684)"/></g>
<g transform="translate(498.00 449.40) rotate(-90)"><text x="-3.89" y="0" font-size="14" font-weight="normal" fill="#1a1a1a">0</text></g>
<g transform="translate(503.30 468.00)"><text x="-3.89" y="0" font-size="14" font-weight="normal" fill="#1a1a1a">0</text></g>
<g transform="translate(674.00 468.00)"><text x="-3.89" y="0" font-size="14" font-weight="normal" fill="#1a1a1a"> </text><path d="M583,0L583,1102C540,1063 483,1023 413,984C343,945 280,915 225,895L225,1063C325,1108 412,1163 487,1227C562,1292 615,1353 646,1409L763,1409L763,0Z" fill="#1a1a1a" stroke="#1a1a1a" stroke-width="26.3" transform="translate(-3.89 0) scale(0.00684 -0.00684)"/></g>
<g transform="translate(485.00 363.20) rotate(-90)"><text x="-33.99" y="0" font-size="15.1" font-weight="normal" fill="#1a1a1a">Sensitivity</text></g>
<g transform="translate(588.70 478.60)"><text x="-44.89" y="0" font-size="15.1" font-weight="normal" fill="#1a1a1a">  - Specificity</text><path d="M583,0L583,1102C540,1063 483,1023 413,984C343,945 280,915 225,895L225,1063C325,1108 412,1163 487,1227C562,1292 615,1353 646,1409L763,1409L763,0Z" fill="#1a1a1a" stroke="#1a1a1a" stroke-width="24.4" transform="translate(-44.89 0) scale(0.00737 -0.00737)"/></g>
</svg>
</body></html>
